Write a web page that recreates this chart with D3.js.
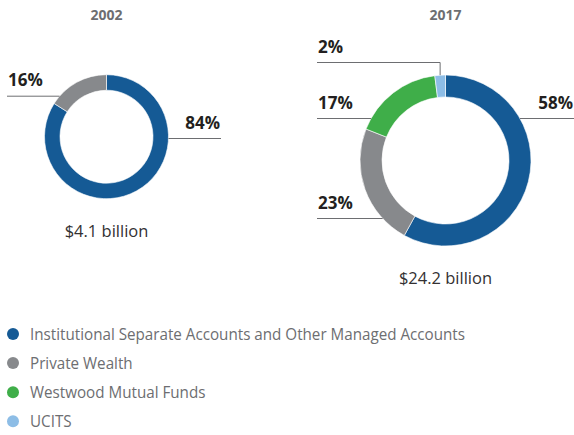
<!DOCTYPE html>
<html>
<head>
<meta charset="utf-8">
<script src="https://cdn.jsdelivr.net/npm/d3@7"></script>
<style>
  html, body { margin: 0; padding: 0; background: #ffffff; }
  svg { display: block; }
  text { font-family: "Open Sans", "Noto Sans", sans-serif; }
</style>
</head>
<body>
<svg id="chart" width="574" height="435"></svg>
<script>
// ---- data ----
const categories = [
  "Institutional Separate Accounts and Other Managed Accounts",
  "Private Wealth",
  "Westwood Mutual Funds",
  "UCITS"
];
const years = ["2002", "2017"];
const values2002 = [84, 16, 0, 0];
const values2017 = [58, 23, 17, 2];
const totals = ["$4.1 billion", "$24.2 billion"];
const colors = ["#155a95", "#87898c", "#3fae49", "#8dbde6"];

// ---- layout ----
const svg = d3.select("#chart");
const textDark = "#231f20";
const textGray = "#6d6e71";
const lineGray = "#6d6e71";

const charts = [
  { title: years[0], values: values2002, total: totals[0], cx: 106.5, cy: 136.7, r: 62, inner: 46.5,
    titleY: 20, totalY: 236.5,
    labels: [
      { i: 0, side: "right", dy: 1.8, x0: null, x1: 221 },
      { i: 1, side: "left", dy: -40.5, x0: 7, x1: null }
    ] },
  { title: years[1], values: values2017, total: totals[1], cx: 445.5, cy: 160.5, r: 85.5, inner: 63.5,
    titleY: 20, totalY: 283.5,
    labels: [
      { i: 0, side: "right", dy: -42, x0: null, x1: 574 },
      { i: 1, side: "left", dy: 58, x0: 317, x1: null },
      { i: 2, side: "left", dy: -42, x0: 317, x1: null },
      { i: 3, side: "top", dy: -98, x0: 317, x1: null }
    ] }
];

const pie = d3.pie().sort(null).value(d => d);

function fitText(sel, size, targetW) {
  sel.attr("font-size", size);
  const w = sel.node().getComputedTextLength();
  if (w > targetW) sel.attr("textLength", targetW).attr("lengthAdjust", "spacingAndGlyphs");
}

charts.forEach(c => {
  const g = svg.append("g");
  g.append("text")
    .attr("x", c.cx).attr("y", c.titleY)
    .attr("text-anchor", "middle")
    .attr("font-size", 14).attr("font-weight", 700)
    .attr("fill", textGray)
    .text(c.title);

  const arcs = pie(c.values);
  const arc = d3.arc().innerRadius(c.inner).outerRadius(c.r);
  g.append("g").attr("transform", `translate(${c.cx},${c.cy})`)
    .selectAll("path").data(arcs.filter(a => a.value > 0)).join("path")
    .attr("d", arc)
    .attr("fill", a => colors[a.index])
    .attr("stroke", "#ffffff").attr("stroke-width", 0.6);

  c.labels.forEach(L => {
    const a = arcs[L.i];
    const y = c.cy + L.dy;
    const pct = c.values[L.i] + "%";
    let pts;
    if (L.side === "top") {
      const mid = (a.startAngle + a.endAngle) / 2;
      const ex = c.cx + c.r * Math.sin(mid);
      const ey = c.cy - c.r * Math.cos(mid);
      pts = [[L.x0, y], [ex, y], [ex, ey]];
    } else {
      const ex = c.cx + (L.side === "right" ? 1 : -1) * Math.sqrt(c.r * c.r - L.dy * L.dy);
      pts = L.side === "right" ? [[ex, y], [L.x1, y]] : [[L.x0, y], [ex, y]];
    }
    g.append("path")
      .attr("d", d3.line()(pts))
      .attr("fill", "none").attr("stroke", lineGray).attr("stroke-width", 1);
    g.append("text")
      .attr("x", L.side === "right" ? L.x1 - 1 : L.x0 + 1)
      .attr("y", y - 10)
      .attr("text-anchor", L.side === "right" ? "end" : "start")
      .attr("font-size", 17).attr("font-weight", 700)
      .attr("fill", textDark)
      .text(pct);
  });

  g.append("text")
    .attr("x", c.cx).attr("y", c.totalY)
    .attr("text-anchor", "middle")
    .attr("font-size", 16.5)
    .attr("fill", "#333132")
    .text(c.total);
});

// ---- legend ----
const legend = svg.append("g");
const rows = legend.selectAll("g").data(categories).join("g")
  .attr("transform", (d, i) => `translate(0,${334 + i * 29.1})`);
rows.append("circle").attr("cx", 13).attr("cy", 0).attr("r", 6)
  .attr("fill", (d, i) => colors[i]);
const texts = rows.append("text")
  .attr("x", 30).attr("y", 6)
  .attr("font-size", 16.5)
  .attr("fill", textGray)
  .text(d => d);
// compress horizontally (like the narrower original typeface) keeping glyph height
const w0 = texts.nodes()[0].getComputedTextLength();
const k = 435 / w0;
texts.each(function () {
  const w = this.getComputedTextLength();
  d3.select(this).attr("textLength", w * k).attr("lengthAdjust", "spacingAndGlyphs");
});
</script>
</body>
</html>
